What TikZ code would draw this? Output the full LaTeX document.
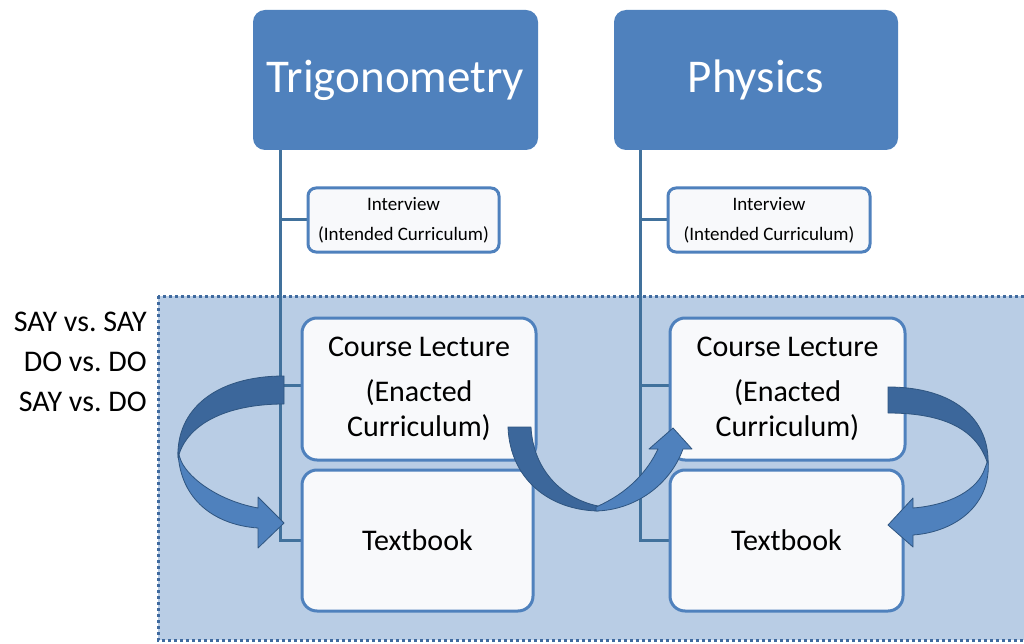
\documentclass[tikz,border=0pt]{standalone}
\usepackage{fontspec}
\setmainfont{Carlito}
\usetikzlibrary{backgrounds}
\definecolor{hdr}{HTML}{4F81BD}
\definecolor{panel}{HTML}{B9CDE5}
\definecolor{linec}{HTML}{41719C}
\definecolor{boxfill}{HTML}{F8F9FB}
\definecolor{dotc}{HTML}{3F6A9F}
\definecolor{arrdark}{HTML}{3C679B}
\definecolor{arrlight}{HTML}{4F81BD}
\definecolor{arredge}{HTML}{2F5580}
\begin{document}
\begin{tikzpicture}[x=1pt,y=-1pt,
  header/.style={rectangle, rounded corners=12pt, fill=hdr, text=white,
    font=\fontsize{47}{56}\selectfont, inner sep=0pt, minimum height=140pt},
  smallbox/.style={rectangle, rounded corners=8pt, draw=hdr, line width=3pt, fill=boxfill,
    font=\fontsize{19}{30}\selectfont, align=center, inner sep=0pt, minimum height=64pt},
  bigbox/.style={rectangle, rounded corners=15pt, draw=hdr, line width=3pt, fill=boxfill,
    font=\fontsize{30}{35}\selectfont, align=center, inner sep=0pt},
  conn/.style={draw=linec, line width=3pt},
  arrpart/.style={draw=arredge, line width=0.8pt, line join=round},
  sidetext/.style={font=\fontsize{30}{40}\selectfont, align=right, anchor=east, inner sep=0pt}
]
\useasboundingbox (0,0) rectangle (1024,644);

% header boxes
\node[header, minimum width=285pt] (trig) at (395.5,80) {Trigonometry};
\node[header, minimum width=284pt] (phys) at (756,80) {Physics};

% boxes
\node[smallbox, minimum width=191pt] (intL) at (403.5,220) {Interview\\(Intended Curriculum)};
\node[smallbox, minimum width=202pt] (intR) at (769,220) {Interview\\(Intended Curriculum)};
\node[bigbox, minimum width=234pt, minimum height=142pt] (courseL) at (419,389) {Course Lecture\\[10pt](Enacted\\Curriculum)};
\node[bigbox, minimum width=235pt, minimum height=142pt] (courseR) at (787.5,389) {Course Lecture\\[10pt](Enacted\\Curriculum)};
\node[bigbox, minimum width=231pt, minimum height=141pt] (texL) at (417.5,540.5) {Textbook};
\node[bigbox, minimum width=233pt, minimum height=141pt] (texR) at (786.5,540.5) {Textbook};

% side text
\node[sidetext] (side) at (147,362) {SAY vs.\ SAY\\DO vs.\ DO\\SAY vs.\ DO};

\begin{scope}[on background layer]
\fill[white] (0,0) rectangle (1024,644);
% panel
\draw[fill=panel, draw=dotc, line width=3pt, dash pattern=on 3pt off 3pt] (158,296) rectangle (1030,640);
% connectors
\coordinate (tvL) at ([xshift=-115.5pt]trig.south);
\coordinate (tvR) at ([xshift=-116pt]phys.south);
\coordinate (cLw) at ([yshift=4pt]courseL.west);
\coordinate (cRw) at ([yshift=4pt]courseR.west);
\draw[conn] (tvL) -- (tvL |- texL.west) -- (texL.west);
\draw[conn] (tvL |- intL.west) -- (intL.west);
\draw[conn] (tvL |- cLw) -- (cLw);
\draw[conn] (tvR) -- (tvR |- texR.west) -- (texR.west);
\draw[conn] (tvR |- intR.west) -- (intR.west);
\draw[conn] (tvR |- cRw) -- (cRw);
\end{scope}

% left curved arrow
\fill[arrdark, arrpart] (284,376) .. controls (215,376) and (176,410) .. (178,458)
  .. controls (186,425) and (225,404) .. (284,404) -- cycle;
\fill[arrlight, arrpart] (178,452) .. controls (180,500) and (215,525) .. (258,528)
  -- (258,548) -- (284,523) -- (258,497) -- (258,508)
  .. controls (215,500) and (185,475) .. (180,458) -- cycle;

% middle curved arrow
\fill[arrdark, arrpart] (508,427) -- (531,427) .. controls (533,468) and (560,498) .. (598,506)
  -- (598,511) .. controls (550,510) and (510,480) .. (508,427) -- cycle;
\fill[arrlight, arrpart] (596,511) .. controls (635,510) and (670,485) .. (683,449)
  -- (692,449) -- (673,428) -- (649,449) -- (658,449)
  .. controls (648,470) and (630,492) .. (596,507) -- cycle;

% right curved arrow
\fill[arrdark, arrpart] (888,387) .. controls (955,387) and (990,420) .. (988,465)
  .. controls (978,430) and (945,413) .. (888,413) -- cycle;
\fill[arrlight, arrpart] (988,460) .. controls (992,505) and (955,532) .. (913,535)
  -- (913,547) -- (888,525) -- (913,498) -- (913,508)
  .. controls (950,505) and (978,490) .. (985,468) -- cycle;
\end{tikzpicture}
\end{document}
